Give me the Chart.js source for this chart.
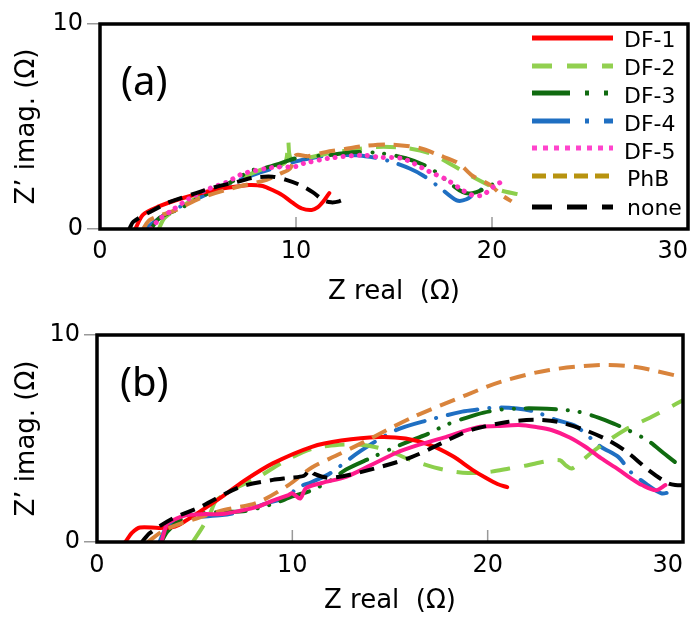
<!DOCTYPE html>
<html>
<head>
<meta charset="utf-8">
<script src="https://cdn.jsdelivr.net/npm/chart.js@4.4.1/dist/chart.umd.min.js"></script>
<style>
  body { margin: 0; background: #fff; }
  #wrap { position: relative; width: 699px; height: 617px; }
  canvas { position: absolute; left: 0; }
  #chartA { top: 0; }
  #chartB { top: 310px; }
</style>
</head>
<body>
<div id="wrap">
  <canvas id="chartA" width="699" height="310"></canvas>
  <canvas id="chartB" width="699" height="307"></canvas>
</div>
<script>
// ---- data: Z real (x) and Z' imag (y), in ohm ----
const seriesNames = ['DF-1', 'DF-2', 'DF-3', 'DF-4', 'DF-5', 'PhB', 'none'];
const xTicks = [0, 10, 20, 30];
const yTicks = [0, 10];

// panel (a)
const aDF1x = [1.8, 2.2, 3, 4.2, 5.8, 6.8, 7.6, 8.3, 8.8, 9.3, 9.8, 10.3, 10.8, 11.1, 11.4, 11.7];
const aDF1y = [0, 0.7, 1.1, 1.5, 1.9, 2.05, 2.15, 2.1, 1.9, 1.65, 1.3, 1.0, 0.93, 1.05, 1.35, 1.75];
const aDF2x = [3.0, 3.3, 4.1, 5, 6, 7, 8.1, 8.8, 9.45, 9.6, 9.75, 10.7, 11.7, 12.8, 14.1, 15.6, 16.8, 17.7, 19, 20.4, 21.3];
const aDF2y = [0, 0.55, 1.07, 1.55, 2.0, 2.4, 2.85, 3.05, 3.25, 4.3, 3.45, 3.5, 3.7, 3.85, 4.0, 3.95, 3.7, 3.27, 2.55, 1.9, 1.7];
const aDF3x = [2.6, 3.05, 4.1, 5, 6, 7, 7.7, 8.5, 9.2, 10.2, 11.7, 12.9, 14.3, 15.6, 16.8, 17.5, 18.5, 19, 19.7, 20.4];
const aDF3y = [0, 0.55, 1.0, 1.5, 1.95, 2.45, 2.85, 3.0, 3.2, 3.5, 3.6, 3.75, 3.7, 3.45, 3.0, 2.5, 1.8, 1.75, 2.0, 2.4];
const aDF4x = [2.3, 3, 4, 5, 6, 7, 8, 9, 10, 11, 11.9, 13.1, 14.2, 14.9, 15.8, 16.5, 17.3, 18.2, 18.7, 19.2, 19.6];
const aDF4y = [0, 0.5, 1.05, 1.5, 1.95, 2.35, 2.7, 3.0, 3.3, 3.5, 3.6, 3.6, 3.45, 3.27, 2.95, 2.6, 2.05, 1.4, 1.45, 1.8, 2.0];
const aDF5x = [2.6, 3.0, 3.7, 4.5, 5.4, 6.5, 7.3, 8.8, 10, 10.4, 11.7, 13.4, 14.3, 15.4, 16, 16.8, 17.7, 18.5, 19, 19.5, 20.2, 20.6];
const aDF5y = [0, 0.45, 0.93, 1.45, 1.9, 2.3, 2.7, 3.0, 3.05, 3.2, 3.45, 3.6, 3.5, 3.45, 3.2, 2.8, 2.4, 1.9, 1.65, 1.65, 2.15, 2.35];
const aPhBx = [2.2, 2.55, 3.9, 5.1, 6.8, 8.5, 9.2, 9.7, 10.0, 10.6, 11.5, 12.5, 13.5, 14.8, 16.3, 17.3, 18.3, 19, 19.9, 20.5, 21.0];
const aPhBy = [0, 0.45, 0.93, 1.5, 2.0, 2.4, 2.7, 2.95, 3.6, 3.55, 3.75, 3.9, 4.05, 4.12, 3.95, 3.6, 3.2, 2.6, 2.15, 1.65, 1.35];
const aNonex = [1.5, 1.7, 2.55, 3.57, 4.9, 5.9, 7, 7.8, 8.8, 9.5, 10.2, 10.85, 11.4, 11.8, 12.2, 12.6];
const aNoney = [0, 0.35, 0.83, 1.32, 1.75, 2.05, 2.3, 2.5, 2.55, 2.4, 2.15, 1.8, 1.4, 1.3, 1.35, 1.5];

// panel (b)
const bDF1x = [1.45, 1.8, 2.2, 3.2, 4.0, 4.5, 5.4, 6.5, 7.6, 9, 11, 12.5, 14.4, 15.8, 17, 18.2, 19.2, 19.9, 20.5, 21.0];
const bDF1y = [0, 0.45, 0.7, 0.68, 0.75, 1.0, 1.55, 2.25, 3.0, 3.8, 4.6, 4.9, 5.07, 5.0, 4.7, 4.15, 3.5, 3.1, 2.8, 2.65];
const bDF2x = [4.9, 5.4, 5.8, 6.1, 7, 8.2, 9.5, 11, 12.4, 13.5, 14.4, 15.2, 16.1, 17.7, 19, 20.2, 21.1, 22, 23, 23.7, 24.0, 24.3, 24.8, 25.5, 27, 28.4, 29.7, 30];
const bDF2y = [0, 0.72, 1.4, 2.0, 2.55, 3.1, 3.85, 4.5, 4.7, 4.7, 4.55, 4.3, 3.95, 3.5, 3.33, 3.4, 3.55, 3.7, 3.9, 3.95, 3.7, 3.55, 3.9, 4.45, 5.4, 6.05, 6.7, 6.85];
const bDF3x = [3.3, 3.6, 4.4, 5.5, 6.5, 7.6, 8.5, 9.2, 10, 11, 12, 12.75, 14, 15.3, 16.2, 17, 17.85, 18.9, 19.8, 20.7, 21.6, 22.6, 23.6, 24.6, 25.7, 26.5, 27.2, 28.2, 29, 29.8, 30];
const bDF3y = [0, 0.5, 1.15, 1.4, 1.45, 1.5, 1.7, 1.9, 2.2, 2.5, 3.0, 3.5, 4.05, 4.6, 4.95, 5.25, 5.65, 6.0, 6.25, 6.4, 6.45, 6.45, 6.4, 6.3, 6.0, 5.7, 5.4, 4.9, 4.3, 3.7, 3.5];
const bDF4x = [3.2, 3.5, 4.2, 5, 6.4, 7.5, 8.8, 9.85, 10.2, 11, 11.9, 13.5, 15.3, 17, 18.7, 19.5, 20.5, 21.5, 22.4, 23.5, 24.5, 25.8, 26.7, 27.3, 28.2, 28.9, 29.3];
const bDF4y = [0, 0.6, 1.05, 1.2, 1.3, 1.5, 1.9, 2.2, 2.6, 2.9, 3.3, 4.4, 5.4, 5.9, 6.3, 6.4, 6.5, 6.45, 6.3, 5.9, 5.6, 4.6, 4.1, 3.4, 2.75, 2.35, 2.4];
const bDF5x = [3.3, 3.45, 3.6, 4.0, 4.6, 5.5, 6.4, 7.3, 8.2, 9.0, 9.8, 10.0, 10.4, 10.7, 11.5, 12.75, 14, 15.3, 16.5, 17.85, 19.5, 20.5, 21.6, 22.5, 23.3, 24.2, 25, 25.8, 26.7, 27.3, 27.9, 28.6, 29.1];
const bDF5y = [0, 0.5, 0.9, 1.1, 1.3, 1.35, 1.35, 1.5, 1.7, 2.0, 2.27, 2.35, 2.1, 2.6, 2.85, 3.15, 3.7, 4.3, 4.7, 5.07, 5.55, 5.6, 5.65, 5.55, 5.4, 5.05, 4.6, 4.05, 3.5, 3.1, 2.75, 2.5, 2.75];
const bPhBx = [2.6, 3.5, 5.3, 6.5, 8.2, 9.8, 11, 12.3, 13.6, 16.1, 18.9, 20.7, 23.1, 25.8, 27.6, 29.6, 30];
const bPhBy = [0, 0.6, 1.2, 1.55, 1.9, 2.75, 3.6, 4.2, 4.8, 6.0, 7.1, 7.75, 8.3, 8.55, 8.45, 8.05, 7.95];
const bNonex = [2.3, 2.7, 3.9, 5.3, 7.3, 9.0, 9.85, 10.6, 10.9, 11.1, 11.9, 13.6, 16.1, 18.7, 19.5, 21, 22.4, 23.6, 25, 26.2, 27.2, 28.2, 29.2, 29.6, 30];
const bNoney = [0, 0.43, 1.15, 1.7, 2.65, 3.0, 3.1, 3.2, 3.5, 3.3, 3.1, 3.4, 4.1, 5.25, 5.5, 5.8, 5.9, 5.8, 5.4, 4.9, 4.3, 3.5, 2.85, 2.75, 2.75];

// ---- styles ----
const FONT = "'DejaVu Sans', Verdana, sans-serif";
const lineColors = ['#ff0000', '#8ccf4c', '#106b10', '#1f6fc2', '#ff33c0', '#d9843c', '#000000'];
const legendColors = ['#ff0000', '#92d050', '#106b10', '#1f6fc2', '#ff44cc', '#b8930f', '#000000'];
const lineDashes = [[], [20, 14], [30, 12, 0.1, 12, 0.1, 12], [30, 12, 0.1, 12], [0.1, 8], [16, 9], [15, 9]];
const lineCaps = ['round', 'butt', 'round', 'round', 'round', 'butt', 'butt'];
const legendDashes = [[], [20, 15], [38, 15, 4, 15, 4, 15], [38, 15, 4, 15], [5, 6], [14, 7], [20, 15]];
const drawOrder = [3, 5, 4, 6, 1, 2, 0];

function pts(xs, ys) { return xs.map((x, i) => ({ x, y: ys[i] })); }

function makeDatasets(list, pinkSolid) {
  return list.map((p, i) => {
    const solid = pinkSolid && i === 4;
    return {
      label: seriesNames[i],
      data: pts(p[0], p[1]),
      showLine: true,
      pointRadius: 0,
      borderWidth: solid ? 4 : (i === 4 ? 5 : 4),
      borderColor: solid ? '#ff1a8c' : lineColors[i],
      borderDash: solid ? [] : lineDashes[i],
      borderCapStyle: solid ? 'round' : lineCaps[i],
      borderJoinStyle: 'round',
      tension: 0.3,
      fill: false,
      order: drawOrder[i]
    };
  });
}

// frame, inward x ticks, panel tag
const framePlugin = {
  id: 'frame',
  afterDraw(chart, args, opts) {
    const { ctx, chartArea: a, scales } = chart;
    ctx.save();
    ctx.strokeStyle = '#999';
    ctx.lineWidth = 1.5;
    [10, 20].forEach(v => {
      const px = scales.x.getPixelForValue(v);
      ctx.beginPath();
      ctx.moveTo(px, a.bottom);
      ctx.lineTo(px, a.bottom - 12);
      ctx.stroke();
    });
    ctx.strokeStyle = '#000';
    ctx.lineWidth = 3.5;
    ctx.strokeRect(a.left, a.top, a.right - a.left, a.bottom - a.top);
    ctx.fillStyle = '#000';
    ctx.font = "40px 'Noto Sans', sans-serif";
    ctx.textBaseline = 'middle';
    ctx.fillText(opts.tag, a.left + opts.tagDx, a.top + opts.tagDy);
    ctx.restore();
  }
};

// legend drawn inside the top-right of panel (a)
const legendPlugin = {
  id: 'insideLegend',
  afterDraw(chart, args, opts) {
    if (!opts.show) return;
    const ctx = chart.ctx;
    const lineY = [38, 66, 93, 121, 148, 176, 207];
    const textY = [41, 69, 97, 125, 153, 180, 209];
    ctx.save();
    seriesNames.forEach((name, i) => {
      ctx.beginPath();
      ctx.strokeStyle = legendColors[i];
      ctx.lineWidth = 5;
      ctx.setLineDash(legendDashes[i]);
      ctx.moveTo(532, lineY[i]);
      ctx.lineTo(613, lineY[i]);
      ctx.stroke();
      ctx.setLineDash([]);
      ctx.fillStyle = '#000';
      ctx.font = '22px ' + FONT;
      ctx.textBaseline = 'middle';
      ctx.fillText(name, i < 5 ? 624 : 627, textY[i]);
    });
    ctx.restore();
  }
};

function buildPanel(canvasId, datasets, cfg) {
  return new Chart(document.getElementById(canvasId), {
    type: 'scatter',
    data: { datasets },
    plugins: [framePlugin, legendPlugin],
    options: {
      responsive: false,
      animation: false,
      devicePixelRatio: 1,
      layout: { padding: { top: cfg.top, right: cfg.right, left: 0, bottom: 0 } },
      plugins: {
        legend: { display: false },
        tooltip: { enabled: false },
        frame: { tag: cfg.tag, tagDx: cfg.tagDx, tagDy: cfg.tagDy },
        insideLegend: { show: cfg.legend }
      },
      scales: {
        x: {
          type: 'linear', min: 0, max: 30,
          afterBuildTicks: s => { s.ticks = xTicks.map(v => ({ value: v })); },
          afterFit: s => { s.height = cfg.xh; s.paddingLeft = 0; s.paddingRight = 0; },
          grid: { display: false, drawTicks: false },
          border: { display: false },
          ticks: {
            color: '#000', padding: cfg.xpad, font: { family: FONT, size: 24 },
            // last label sits inside the page, as in the figure
            callback: (v, i, arr) => i === arr.length - 1 ? v + '    ' : String(v)
          },
          title: { display: true, text: 'Z real  (Ω)', color: '#000', padding: { top: 0, bottom: cfg.titlePad }, font: { family: FONT, size: 26 } }
        },
        y: {
          type: 'linear', min: 0, max: 10,
          afterBuildTicks: s => { s.ticks = yTicks.map(v => ({ value: v })); },
          afterFit: s => { s.width = cfg.yw; s.paddingTop = 0; s.paddingBottom = 0; },
          grid: { drawOnChartArea: false, drawTicks: true, tickLength: 13, color: '#999', lineWidth: 1.5 },
          border: { display: false },
          ticks: { color: '#000', padding: 4, font: { family: FONT, size: 24 } },
          title: { display: true, text: 'Z’ imag. (Ω)', color: '#000', padding: { top: 12, bottom: 0 }, font: { family: FONT, size: 26 } }
        }
      }
    }
  });
}

buildPanel('chartA', makeDatasets([
  [aDF1x, aDF1y], [aDF2x, aDF2y], [aDF3x, aDF3y], [aDF4x, aDF4y], [aDF5x, aDF5y], [aPhBx, aPhBy], [aNonex, aNoney]
], false), { top: 24, right: 11, yw: 100, xh: 81, xpad: 8, titlePad: 2, tag: '(a)', tagDx: 21, tagDy: 60, legend: true });

buildPanel('chartB', makeDatasets([
  [bDF1x, bDF1y], [bDF2x, bDF2y], [bDF3x, bDF3y], [bDF4x, bDF4y], [bDF5x, bDF5y], [bPhBx, bPhBy], [bNonex, bNoney]
], true), { top: 25, right: 16, yw: 97, xh: 75, xpad: 9, titlePad: 0, tag: '(b)', tagDx: 23, tagDy: 50, legend: false });
</script>
</body>
</html>
